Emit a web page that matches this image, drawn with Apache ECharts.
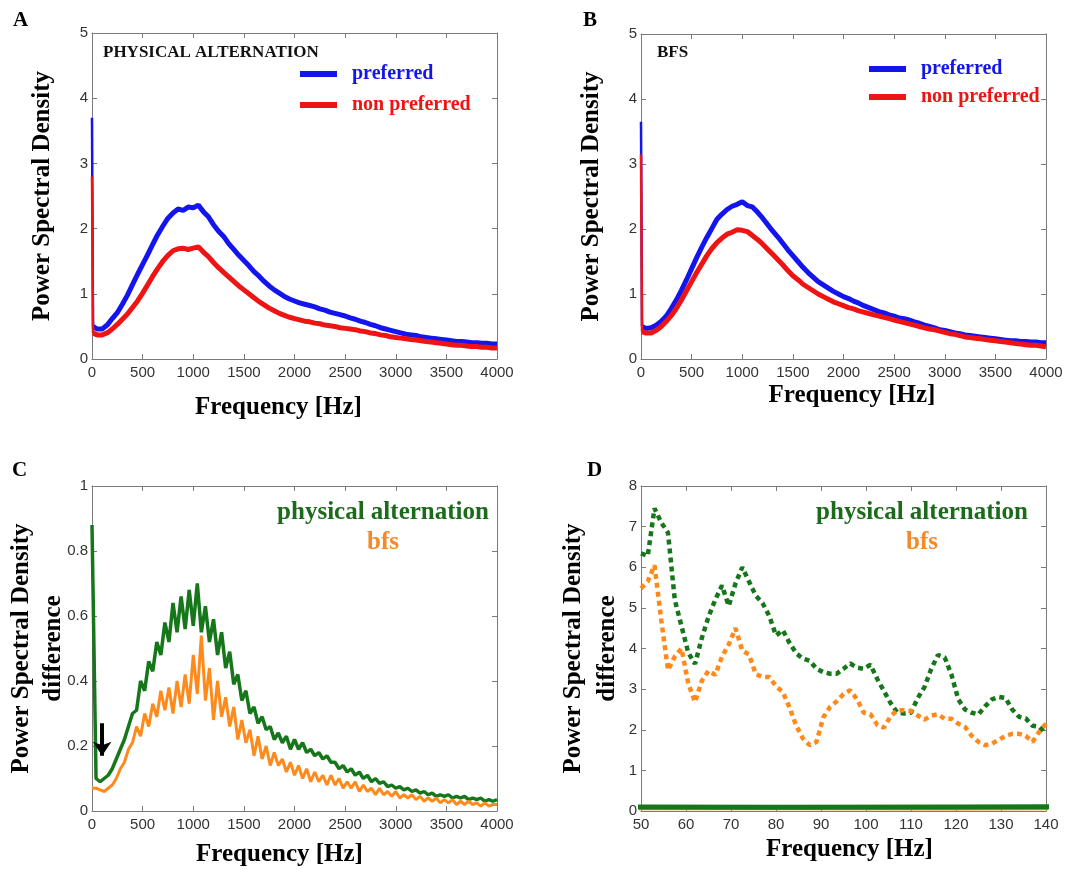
<!DOCTYPE html>
<html><head><meta charset="utf-8">
<script src="https://cdn.jsdelivr.net/npm/echarts@6/dist/echarts.min.js"></script>
<style>html,body{margin:0;padding:0;background:#fff}#c{width:1081px;height:869px}</style>
</head><body><div id="c"></div>
<script>
// ---------- data ----------
// Panels A and B sampled at 0, 10, 50, 100, ... 4000 Hz
const freqAB = [0, 10];
for (let f = 50; f <= 4000; f += 50) freqAB.push(f);

const aPref = [3.7, 0.50,
  0.46, 0.46, 0.52, 0.62, 0.71, 0.84, 0.98, 1.14, 1.30, 1.45,
  1.60, 1.76, 1.91, 2.04, 2.16, 2.24, 2.30, 2.28, 2.33, 2.32,
  2.36, 2.26, 2.18, 2.06, 1.96, 1.88, 1.77, 1.68, 1.59, 1.51,
  1.43, 1.34, 1.27, 1.19, 1.12, 1.06, 1.01, 0.96, 0.92, 0.89,
  0.86, 0.84, 0.82, 0.80, 0.77, 0.75, 0.72, 0.70, 0.68, 0.66,
  0.63, 0.61, 0.58, 0.56, 0.53, 0.51, 0.48, 0.46, 0.44, 0.42,
  0.40, 0.38, 0.37, 0.36, 0.34, 0.33, 0.32, 0.31, 0.30, 0.29,
  0.28, 0.27, 0.27, 0.26, 0.25, 0.25, 0.24, 0.24, 0.23, 0.23];
const aNonPref = [2.8, 0.40,
  0.37, 0.37, 0.40, 0.46, 0.53, 0.61, 0.69, 0.79, 0.89, 1.01,
  1.14, 1.27, 1.39, 1.50, 1.59, 1.66, 1.69, 1.70, 1.68, 1.70,
  1.72, 1.64, 1.57, 1.48, 1.40, 1.33, 1.26, 1.19, 1.12, 1.06,
  1.00, 0.94, 0.88, 0.83, 0.78, 0.74, 0.70, 0.67, 0.64, 0.62,
  0.60, 0.58, 0.57, 0.55, 0.54, 0.52, 0.51, 0.50, 0.48, 0.47,
  0.46, 0.45, 0.43, 0.42, 0.40, 0.39, 0.37, 0.36, 0.34, 0.33,
  0.32, 0.31, 0.30, 0.29, 0.28, 0.27, 0.26, 0.25, 0.24, 0.23,
  0.22, 0.21, 0.21, 0.20, 0.19, 0.19, 0.18, 0.18, 0.17, 0.17];
const bPref = [3.65, 0.50,
  0.47, 0.48, 0.52, 0.58, 0.66, 0.78, 0.91, 1.06, 1.22, 1.39,
  1.56, 1.72, 1.87, 2.01, 2.15, 2.23, 2.30, 2.35, 2.38, 2.42,
  2.36, 2.34, 2.26, 2.17, 2.07, 1.97, 1.88, 1.78, 1.68, 1.59,
  1.50, 1.41, 1.33, 1.26, 1.19, 1.14, 1.09, 1.04, 1.00, 0.96,
  0.93, 0.89, 0.86, 0.82, 0.79, 0.76, 0.73, 0.71, 0.68, 0.66,
  0.63, 0.62, 0.60, 0.57, 0.55, 0.52, 0.50, 0.48, 0.45, 0.44,
  0.42, 0.40, 0.39, 0.37, 0.36, 0.35, 0.34, 0.33, 0.32, 0.31,
  0.30, 0.29, 0.28, 0.28, 0.27, 0.27, 0.26, 0.26, 0.25, 0.25];
const bNonPref = [3.15, 0.42,
  0.40, 0.40, 0.44, 0.50, 0.58, 0.67, 0.78, 0.91, 1.05, 1.19,
  1.33, 1.46, 1.59, 1.70, 1.79, 1.86, 1.92, 1.95, 1.99, 1.98,
  1.96, 1.90, 1.84, 1.77, 1.69, 1.61, 1.53, 1.45, 1.36, 1.28,
  1.22, 1.15, 1.10, 1.05, 1.00, 0.96, 0.92, 0.88, 0.85, 0.82,
  0.79, 0.77, 0.74, 0.72, 0.70, 0.68, 0.66, 0.64, 0.62, 0.60,
  0.58, 0.56, 0.54, 0.52, 0.50, 0.48, 0.46, 0.45, 0.43, 0.41,
  0.39, 0.38, 0.36, 0.34, 0.33, 0.32, 0.31, 0.30, 0.29, 0.28,
  0.27, 0.26, 0.25, 0.24, 0.23, 0.22, 0.21, 0.21, 0.20, 0.19];

// Panel C sampled every 40 Hz, 0 ... 4000
const freqC = [];
for (let f = 0; f <= 4000; f += 40) freqC.push(f);
const physDiffC = [
  0.88, 0.10, 0.09, 0.10, 0.11, 0.13, 0.16, 0.19, 0.22, 0.26,
  0.30, 0.31, 0.40, 0.37, 0.46, 0.43, 0.52, 0.48, 0.58, 0.52,
  0.64, 0.55, 0.66, 0.56, 0.68, 0.57, 0.70, 0.55, 0.63, 0.52,
  0.59, 0.48, 0.55, 0.44, 0.49, 0.39, 0.42, 0.34, 0.37, 0.30,
  0.32, 0.27, 0.29, 0.25, 0.26, 0.22, 0.24, 0.21, 0.23, 0.19,
  0.22, 0.19, 0.21, 0.18, 0.19, 0.17, 0.18, 0.16, 0.17, 0.15,
  0.15, 0.13, 0.14, 0.12, 0.13, 0.11, 0.12, 0.10, 0.11, 0.09,
  0.10, 0.085, 0.09, 0.075, 0.08, 0.07, 0.075, 0.065, 0.07, 0.06,
  0.065, 0.055, 0.06, 0.05, 0.055, 0.045, 0.05, 0.045, 0.05, 0.04,
  0.045, 0.04, 0.045, 0.035, 0.04, 0.035, 0.04, 0.03, 0.035, 0.03,
  0.035];
const bfsDiffC = [
  0.07, 0.07, 0.065, 0.06, 0.07, 0.08, 0.10, 0.13, 0.15, 0.19,
  0.21, 0.26, 0.23, 0.30, 0.26, 0.33, 0.29, 0.37, 0.31, 0.38,
  0.30, 0.40, 0.32, 0.42, 0.33, 0.48, 0.36, 0.54, 0.34, 0.44,
  0.28, 0.40, 0.29, 0.35, 0.26, 0.32, 0.22, 0.28, 0.21, 0.25,
  0.17, 0.23, 0.16, 0.20, 0.14, 0.18, 0.14, 0.16, 0.12, 0.15,
  0.11, 0.14, 0.10, 0.13, 0.09, 0.12, 0.09, 0.11, 0.08, 0.11,
  0.08, 0.10, 0.07, 0.09, 0.07, 0.09, 0.06, 0.08, 0.06, 0.07,
  0.05, 0.07, 0.05, 0.06, 0.045, 0.06, 0.04, 0.05, 0.04, 0.05,
  0.035, 0.045, 0.03, 0.04, 0.03, 0.04, 0.025, 0.035, 0.025, 0.035,
  0.02, 0.03, 0.02, 0.03, 0.02, 0.025, 0.015, 0.025, 0.015, 0.02,
  0.02];
const arrowC = { freq: 100, from: 0.27, to: 0.17 };

// Panel D sampled every 1.5 Hz, 50 ... 140
const freqD = [];
for (let i = 0; i <= 60; i++) freqD.push(50 + 1.5 * i);
const physDiffD = [
  6.34, 6.28, 7.45, 7.10, 6.85, 5.20, 4.55, 3.90, 3.62, 4.25,
  4.78, 5.20, 5.55, 5.05, 5.60, 6.00, 5.65, 5.30, 5.12, 4.80,
  4.32, 4.45, 4.14, 3.88, 3.75, 3.70, 3.50, 3.42, 3.38, 3.38,
  3.50, 3.63, 3.53, 3.50, 3.60, 3.25, 2.95, 2.65, 2.42, 2.40,
  2.42, 2.78, 3.05, 3.50, 3.84, 3.78, 3.35, 2.75, 2.50, 2.42,
  2.38, 2.58, 2.75, 2.81, 2.78, 2.50, 2.32, 2.28, 2.10, 2.07,
  1.90];
const bfsDiffD = [
  5.48, 5.65, 6.05, 4.70, 3.47, 3.80, 4.00, 3.14, 2.68, 3.20,
  3.45, 3.35, 3.80, 4.10, 4.50, 3.95, 3.85, 3.37, 3.30, 3.30,
  3.07, 2.93, 2.55, 2.10, 1.78, 1.62, 1.70, 2.30, 2.56, 2.70,
  2.88, 2.97, 2.75, 2.42, 2.38, 2.12, 2.05, 2.34, 2.48, 2.48,
  2.46, 2.35, 2.25, 2.35, 2.38, 2.27, 2.27, 2.15, 2.07, 1.85,
  1.70, 1.62, 1.66, 1.75, 1.85, 1.90, 1.90, 1.85, 1.70, 1.95,
  2.15];

// ---------- styling ----------
const BLUE = '#1414ee', RED = '#ee1414', GREEN = '#16761a', ORANGE = '#ff8a1c';
const GREEN_TXT = '#1c6a1c', ORANGE_TXT = '#f28a2c';
const AXC = '#7a7a7a';
const SERIF = '"Liberation Serif", "Times New Roman", serif';
const TICKFONT = '"Liberation Sans Narrow", "Liberation Sans", sans-serif';

const pairs = (xs, ys) => xs.map((x, i) => [x, ys[i]]);

const gridBase = { containLabel: false, outerBoundsMode: 'none' };
const grids = [
  Object.assign({ left: 92, top: 33, width: 405, height: 326 }, gridBase),
  Object.assign({ left: 641, top: 34, width: 405, height: 325 }, gridBase),
  Object.assign({ left: 92, top: 486, width: 405, height: 325 }, gridBase),
  Object.assign({ left: 641, top: 486, width: 405, height: 325 }, gridBase)
];

function xAxes(g, min, max, interval, gap, pad) {
  const common = { type: 'value', gridIndex: g, min, max, interval,
    splitLine: { show: false },
    axisLine: { show: true, onZero: false, lineStyle: { color: AXC, width: 1 } },
    axisTick: { show: true, inside: true, length: 5, lineStyle: { color: AXC } } };
  return [
    Object.assign({}, common, { position: 'bottom',
      axisLabel: { color: '#333', fontFamily: TICKFONT, fontSize: 15, margin: 6, formatter: v => String(v) },
      name: 'Frequency [Hz]', nameLocation: 'middle', nameGap: gap, nameMoveOverlap: false,
      nameTextStyle: { fontFamily: SERIF, fontWeight: 'bold', fontSize: 25, color: '#000', padding: pad } }),
    Object.assign({}, common, { position: 'top', axisLabel: { show: false } })
  ];
}
function yAxes(g, min, max, interval, name, gap, lh, fmt) {
  const common = { type: 'value', gridIndex: g, min, max, interval,
    splitLine: { show: false },
    axisLine: { show: true, onZero: false, lineStyle: { color: AXC, width: 1 } },
    axisTick: { show: true, inside: true, length: 5, lineStyle: { color: AXC } } };
  return [
    Object.assign({}, common, { position: 'left',
      axisLabel: { color: '#333', fontFamily: TICKFONT, fontSize: 15, margin: 4, formatter: fmt || (v => String(v)) },
      name, nameLocation: 'middle', nameGap: gap, nameRotate: 90, nameMoveOverlap: false,
      nameTextStyle: { fontFamily: SERIF, fontWeight: 'bold', fontSize: 25, color: '#000', lineHeight: lh } }),
    Object.assign({}, common, { position: 'right', axisLabel: { show: false } })
  ];
}

const xAxis = [].concat(
  xAxes(0, 0, 4000, 500, 36, [0, 32, 0, 0]),
  xAxes(1, 0, 4000, 500, 24, [0, 0, 0, 17]),
  xAxes(2, 0, 4000, 500, 31, [0, 30, 0, 0]),
  xAxes(3, 50, 140, 10, 26, [0, 0, 0, 12])
);
const yAxis = [].concat(
  yAxes(0, 0, 5, 1, 'Power Spectral Density', 37, 25),
  yAxes(1, 0, 5, 1, 'Power Spectral Density', 37, 25),
  yAxes(2, 0, 1, 0.2, 'Power Spectral Density\ndifference', 22, 32, v => String(+v.toFixed(1))),
  yAxes(3, 0, 8, 1, 'Power Spectral Density\ndifference', 16, 34)
);

function solid(name, g, data, color, width) {
  return { name, type: 'line', xAxisIndex: 2 * g, yAxisIndex: 2 * g, data,
    showSymbol: false, symbol: 'none', animation: false, clip: true,
    lineStyle: { color, width }, itemStyle: { color } };
}
function dotted(name, g, data, color) {
  return { name, type: 'line', xAxisIndex: 2 * g, yAxisIndex: 2 * g, data,
    showSymbol: false, symbol: 'none', animation: false, clip: true,
    lineStyle: { color, width: 4.5, type: [5, 4] }, itemStyle: { color } };
}
// low-frequency spike drawn thin, rest of the spectrum drawn as a thick trace
function spectrum(name, g, xs, ys, color) {
  const all = pairs(xs, ys);
  return [solid(name, g, all.slice(1), color, 5), solid(name, g, all.slice(0, 2), color, 2.5)];
}

const greenC = solid('physical alternation', 2, pairs(freqC, physDiffC), GREEN, 3.5);
greenC.markLine = { silent: true, symbol: ['none', 'arrow'], symbolSize: 14, animation: false,
  label: { show: false }, lineStyle: { color: '#000', width: 4, type: 'solid' },
  data: [[{ coord: [arrowC.freq, arrowC.from] }, { coord: [arrowC.freq, arrowC.to] }]] };

const series = [].concat(
  spectrum('preferred', 0, freqAB, aPref, BLUE),
  spectrum('non preferred', 0, freqAB, aNonPref, RED),
  spectrum('preferred', 1, freqAB, bPref, BLUE),
  spectrum('non preferred', 1, freqAB, bNonPref, RED),
  [
    greenC,
    solid('bfs', 2, pairs(freqC, bfsDiffC), ORANGE, 3),
    solid('bfs', 3, pairs(freqC, bfsDiffC), ORANGE, 4),
    solid('physical alternation', 3, pairs(freqC, physDiffC), GREEN, 5),
    dotted('physical alternation', 3, pairs(freqD, physDiffD), GREEN),
    dotted('bfs', 3, pairs(freqD, bfsDiffD), ORANGE)
  ]
);

const legendText = { fontFamily: SERIF, fontWeight: 'bold', fontSize: 20, padding: [0, 0, 0, 10] };
const legend = [
  { left: 295, top: 59, orient: 'vertical', itemWidth: 37, itemHeight: 6, itemGap: 11, icon: 'rect',
    selectedMode: false, textStyle: legendText,
    data: [{ name: 'preferred', textStyle: { color: BLUE } }, { name: 'non preferred', textStyle: { color: RED } }] },
  { left: 864, top: 54, orient: 'vertical', itemWidth: 37, itemHeight: 6, itemGap: 8, icon: 'rect',
    selectedMode: false, textStyle: legendText,
    data: [{ name: 'preferred', textStyle: { color: BLUE } }, { name: 'non preferred', textStyle: { color: RED } }] }
];

const letter = (t, x, y) => ({ type: 'text', left: x, top: y,
  style: { text: t, font: 'bold 21px ' + SERIF, fill: '#000' } });
const note = (t, x, y, size, color, align) => ({ type: 'text', x, y,
  style: { text: t, font: 'bold ' + size + 'px ' + SERIF, fill: color, textAlign: align || 'left', textVerticalAlign: 'top' } });

const graphic = [
  letter('A', 13, 10), letter('B', 583, 10), letter('C', 12, 460), letter('D', 587, 460),
  note('PHYSICAL ALTERNATION', 103, 44, 17, '#111'),
  note('BFS', 657, 44, 17, '#111'),
  note('physical alternation', 383, 500, 25, GREEN_TXT, 'center'),
  note('bfs', 383, 530, 25, ORANGE_TXT, 'center'),
  note('physical alternation', 922, 500, 25, GREEN_TXT, 'center'),
  note('bfs', 922, 530, 25, ORANGE_TXT, 'center')
];

const chart = echarts.init(document.getElementById('c'), null, { renderer: 'canvas' });
chart.setOption({ animation: false, backgroundColor: '#fff', grid: grids, xAxis, yAxis, series, legend, graphic });
</script></body></html>
